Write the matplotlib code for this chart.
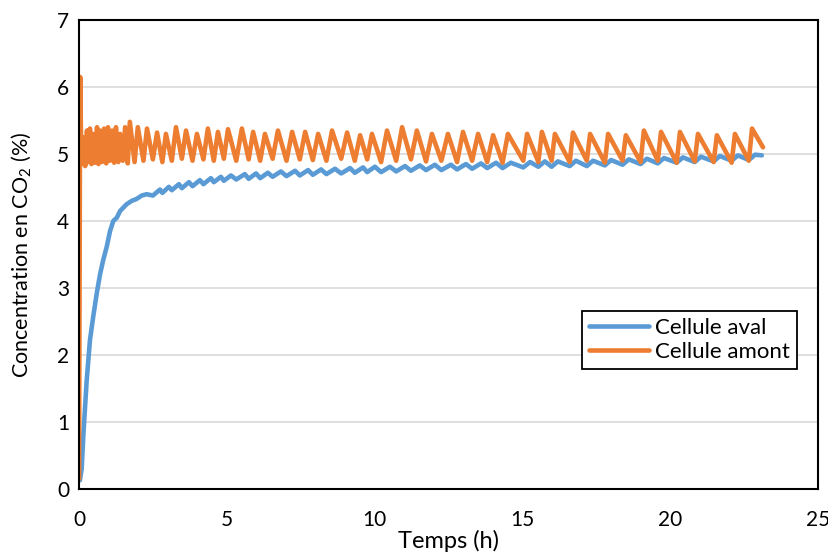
import matplotlib
matplotlib.use("Agg")
import matplotlib.pyplot as plt

plt.rcParams['font.family'] = ['Lato', 'DejaVu Sans']
plt.rcParams['mathtext.fontset'] = 'custom'
plt.rcParams['mathtext.rm'] = 'Lato'

# ---- donnees ----
# Cellule amont (orange) : depart, pic initial, puis creux / pics alternes
amont_debut_t = [0.0, 0.04]
amont_debut_v = [0.15, 6.15]

amont_creux_t = [0.08, 0.21, 0.32, 0.42, 0.54, 0.66, 0.78, 0.92, 1.05, 1.19,
                 1.33, 1.48, 1.65, 1.88, 2.18, 2.50, 2.82, 3.14, 3.48, 3.84,
                 4.21, 4.56, 4.90, 5.32, 5.74, 6.13, 6.55, 7.02, 7.47, 7.91,
                 8.37, 8.87, 9.33, 9.75, 10.22, 10.73, 11.23, 11.74, 12.26, 12.79,
                 13.30, 13.81, 14.33, 15.03, 15.54, 15.99, 16.60, 17.18, 17.79, 18.39,
                 19.00, 19.58, 20.22, 20.83, 21.47, 22.08, 22.66]
amont_creux_v = [4.85, 4.82, 4.88, 4.85, 4.87, 4.85, 4.88, 4.86, 4.90, 4.87,
                 4.88, 4.90, 4.86, 4.88, 4.90, 4.92, 4.88, 4.90, 4.93, 4.90,
                 4.92, 4.90, 4.93, 4.90, 4.92, 4.90, 4.93, 4.90, 4.92, 4.91,
                 4.90, 4.93, 4.90, 4.92, 4.88, 4.90, 4.92, 4.89, 4.90, 4.88,
                 4.90, 4.88, 4.87, 4.90, 4.88, 4.90, 4.88, 4.90, 4.87, 4.90,
                 4.88, 4.90, 4.87, 4.89, 4.88, 4.87, 4.90]
amont_pic_t = [0.14, 0.27, 0.37, 0.47, 0.61, 0.71, 0.85, 0.98, 1.12, 1.25,
               1.39, 1.56, 1.72, 1.99, 2.30, 2.64, 2.94, 3.28, 3.62, 3.99,
               4.36, 4.70, 5.04, 5.51, 5.89, 6.29, 6.73, 7.21, 7.65, 8.09,
               8.56, 9.07, 9.51, 9.91, 10.42, 10.93, 11.43, 11.94, 12.48, 12.99,
               13.50, 14.01, 14.51, 15.16, 15.66, 16.10, 16.71, 17.29, 17.90, 18.50,
               19.11, 19.69, 20.33, 20.94, 21.58, 22.19, 22.77]
amont_pic_v = [5.25, 5.35, 5.38, 5.30, 5.40, 5.35, 5.38, 5.40, 5.35, 5.40,
               5.30, 5.40, 5.48, 5.40, 5.38, 5.32, 5.30, 5.40, 5.35, 5.30,
               5.38, 5.33, 5.37, 5.38, 5.33, 5.30, 5.35, 5.33, 5.33, 5.30,
               5.35, 5.32, 5.28, 5.30, 5.35, 5.40, 5.35, 5.30, 5.30, 5.33,
               5.30, 5.28, 5.30, 5.30, 5.33, 5.30, 5.32, 5.30, 5.30, 5.28,
               5.35, 5.33, 5.33, 5.30, 5.28, 5.30, 5.38]
amont_fin_t = [23.14]
amont_fin_v = [5.10]

# Cellule aval (bleu) : montee initiale puis petites oscillations
aval_debut_t = [0.03, 0.09, 0.15, 0.26, 0.37, 0.48, 0.60, 0.71, 0.82, 0.94,
                1.05, 1.16, 1.28, 1.39, 1.50, 1.61, 1.78, 1.95, 2.12, 2.29]
aval_debut_v = [0.13, 0.30, 0.83, 1.62, 2.22, 2.57, 2.92, 3.20, 3.42, 3.62,
                3.85, 4.00, 4.05, 4.15, 4.20, 4.25, 4.30, 4.33, 4.38, 4.40]
aval_creux_t = [2.50, 2.82, 3.14, 3.48, 3.84, 4.21, 4.56, 4.90, 5.32, 5.74,
                6.13, 6.55, 7.02, 7.47, 7.91, 8.37, 8.87, 9.33, 9.75, 10.22,
                10.73, 11.23, 11.74, 12.26, 12.79, 13.30, 13.81, 14.33, 15.03, 15.54,
                15.99, 16.60, 17.18, 17.79, 18.39, 19.00, 19.58, 20.22, 20.83, 21.47,
                22.08, 22.66]
aval_creux_v = [4.38, 4.42, 4.46, 4.49, 4.52, 4.55, 4.58, 4.60, 4.62, 4.63,
                4.64, 4.66, 4.67, 4.68, 4.69, 4.70, 4.71, 4.72, 4.73, 4.73,
                4.74, 4.75, 4.76, 4.76, 4.77, 4.78, 4.79, 4.79, 4.80, 4.81,
                4.81, 4.82, 4.82, 4.83, 4.84, 4.85, 4.86, 4.87, 4.88, 4.89,
                4.90, 4.91]
aval_pic_t = [2.74, 3.04, 3.38, 3.72, 4.09, 4.46, 4.80, 5.14, 5.61, 5.99,
              6.39, 6.83, 7.31, 7.75, 8.19, 8.66, 9.17, 9.61, 10.01, 10.52,
              11.03, 11.53, 12.04, 12.58, 13.09, 13.60, 14.11, 14.61, 15.26, 15.76,
              16.20, 16.81, 17.39, 18.00, 18.60, 19.21, 19.79, 20.43, 21.04, 21.68,
              22.29, 22.87]
aval_pic_v = [4.47, 4.51, 4.55, 4.58, 4.61, 4.64, 4.66, 4.68, 4.70, 4.71,
              4.72, 4.74, 4.75, 4.76, 4.77, 4.78, 4.79, 4.80, 4.81, 4.81,
              4.82, 4.83, 4.84, 4.84, 4.85, 4.86, 4.87, 4.87, 4.88, 4.89,
              4.89, 4.90, 4.90, 4.91, 4.92, 4.93, 4.94, 4.95, 4.96, 4.97,
              4.98, 4.99]
aval_fin_t = [23.10]
aval_fin_v = [4.98]

x_ticks = [0, 5, 10, 15, 20, 25]
y_ticks = [0, 1, 2, 3, 4, 5, 6, 7]


def alterne(ta, va, tb, vb):
    # entrelace creux et pics dans l'ordre
    t, v = [], []
    for a, b, c, d in zip(ta, va, tb, vb):
        t += [a, c]
        v += [b, d]
    return t, v


t_o, v_o = alterne(amont_creux_t, amont_creux_v, amont_pic_t, amont_pic_v)
amont_t = amont_debut_t + t_o + amont_fin_t
amont_v = amont_debut_v + v_o + amont_fin_v

t_b, v_b = alterne(aval_creux_t, aval_creux_v, aval_pic_t, aval_pic_v)
aval_t = aval_debut_t + t_b + aval_fin_t
aval_v = aval_debut_v + v_b + aval_fin_v

fig = plt.figure(figsize=(8.29, 5.53), dpi=100)
ax = fig.add_axes([0.0953, 0.1157, 0.8914, 0.8481])

ax.plot(aval_t, aval_v, color='#5B9BD5', lw=3.3, label='Cellule aval',
        solid_joinstyle='round', solid_capstyle='round')
ax.plot(amont_t, amont_v, color='#ED7D31', lw=3.3, label='Cellule amont',
        solid_joinstyle='round', solid_capstyle='round')

ax.set_xlim(0, 25)
ax.set_ylim(0, 7)
ax.set_xticks(x_ticks)
ax.set_yticks(y_ticks)
ax.tick_params(length=0, labelsize=15, colors='#000000')
ax.tick_params(axis='x', pad=15)
ax.tick_params(axis='y', pad=7)
ax.grid(axis='y', color='#d9d9d9', lw=1.2)
ax.set_axisbelow(True)
for s in ax.spines.values():
    s.set_color('black')
    s.set_linewidth(1.5)

ax.set_xlabel('Temps (h)', fontsize=17)
ax.xaxis.set_label_coords(0.5, -0.111)
ax.xaxis.label.set_va('center')
ax.set_ylabel('Concentration en CO$_2$ (%)', fontsize=15.5)
ax.yaxis.set_label_coords(-0.077, 0.5)
ax.yaxis.label.set_va('center')

leg = ax.legend(loc='upper left', bbox_to_anchor=(582 / 829, 1 - 311 / 553),
                bbox_transform=fig.transFigure, borderaxespad=0, fancybox=False,
                framealpha=1, edgecolor='black', fontsize=16, handlelength=2.7,
                handletextpad=0.3, borderpad=0.3, labelspacing=0.2)
leg.get_frame().set_linewidth(1.3)

plt.savefig('out.png', dpi=100)
plt.close()
